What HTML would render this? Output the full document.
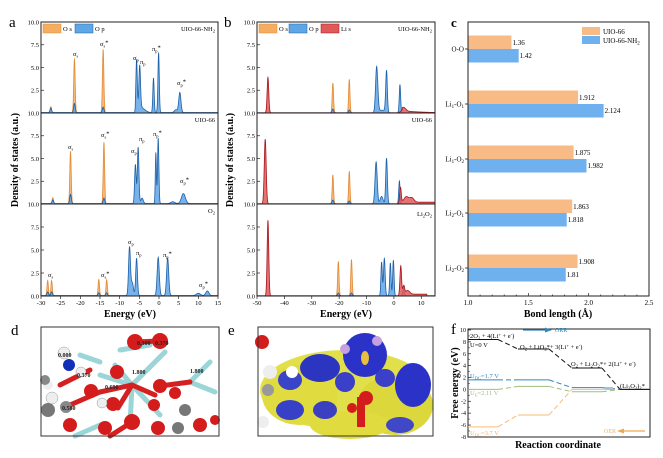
<!DOCTYPE html>
<html><head><meta charset="utf-8">
<style>
html,body{margin:0;padding:0;background:#fff;}
svg{display:block;font-family:"Liberation Serif",serif;}
</style></head>
<body>
<svg id="s" width="663" height="458" viewBox="0 0 663 458" xmlns="http://www.w3.org/2000/svg">
<rect width="663" height="458" fill="#fff"/>
<g id="spec"></g>
<text x="9" y="27" font-size="15">a</text>
<text x="224" y="27" font-size="15">b</text>
<text x="451" y="27" font-size="13" font-weight="bold">c</text>
<text x="11" y="335" font-size="15">d</text>
<text x="228" y="335" font-size="15">e</text>
<text x="451" y="334" font-size="15">f</text>
<text transform="translate(18,160) rotate(-90)" font-size="10" font-weight="bold" text-anchor="middle">Density of states (a.u.)</text>
<text transform="translate(233,160) rotate(-90)" font-size="10" font-weight="bold" text-anchor="middle">Density of states (a.u.)</text>
<text x="130" y="317" font-size="10" font-weight="bold" text-anchor="middle">Energy (eV)</text>
<text x="346" y="317" font-size="10" font-weight="bold" text-anchor="middle">Energy (eV)</text>
<text x="558" y="317" font-size="10" font-weight="bold" text-anchor="middle">Bond length (Å)</text>
<text x="558" y="448" font-size="10" font-weight="bold" text-anchor="middle">Reaction coordinate</text>
<text transform="translate(458,383) rotate(-90)" font-size="10" font-weight="bold" text-anchor="middle">Free energy (eV)</text>

<!-- panel d molecule -->
<g>
<rect x="41" y="327" width="178" height="109" fill="#fff"/>
<g stroke="#9ad6d8" stroke-width="5" stroke-linecap="round">
<line x1="132" y1="385" x2="165" y2="352"/><line x1="132" y1="385" x2="100" y2="375"/><line x1="132" y1="385" x2="130" y2="425"/><line x1="132" y1="385" x2="160" y2="415"/>
<line x1="132" y1="385" x2="115" y2="365"/><line x1="190" y1="382" x2="210" y2="362"/><line x1="190" y1="382" x2="215" y2="392"/><line x1="100" y1="425" x2="75" y2="436"/><line x1="150" y1="345" x2="120" y2="350"/><line x1="100" y1="362" x2="80" y2="355"/>
</g>
<g stroke="#d42020" stroke-width="5" stroke-linecap="round">
<line x1="132" y1="385" x2="100" y2="392"/><line x1="132" y1="385" x2="155" y2="395"/><line x1="100" y1="392" x2="70" y2="405"/><line x1="60" y1="385" x2="90" y2="370"/><line x1="132" y1="385" x2="118" y2="408"/><line x1="135" y1="342" x2="160" y2="341"/><line x1="160" y1="386" x2="190" y2="382"/><line x1="132" y1="422" x2="110" y2="436"/>
</g>
<circle cx="135" cy="342" r="8" fill="#d41c1c"/><circle cx="160" cy="341" r="8" fill="#d41c1c"/>
<circle cx="117" cy="372" r="7" fill="#d41c1c"/><circle cx="91" cy="391" r="7" fill="#d41c1c"/><circle cx="160" cy="386" r="7" fill="#d41c1c"/>
<circle cx="175" cy="393" r="6" fill="#d41c1c"/><circle cx="154" cy="405" r="6" fill="#d41c1c"/><circle cx="113" cy="404" r="7" fill="#d41c1c"/>
<circle cx="132" cy="422" r="8" fill="#d41c1c"/><circle cx="70" cy="425" r="7" fill="#d41c1c"/><circle cx="105" cy="428" r="7" fill="#d41c1c"/><circle cx="200" cy="425" r="7" fill="#d41c1c"/><circle cx="158" cy="428" r="7" fill="#d41c1c"/><circle cx="215" cy="420" r="5" fill="#d41c1c"/>
<circle cx="69" cy="365" r="6" fill="#1030b8"/>
<circle cx="64" cy="353" r="6" fill="#eee" stroke="#999" stroke-width=".5"/><circle cx="81" cy="372" r="5" fill="#eee" stroke="#999" stroke-width=".5"/><circle cx="52" cy="398" r="6" fill="#eee" stroke="#999" stroke-width=".5"/><circle cx="102" cy="403" r="5" fill="#eee" stroke="#999" stroke-width=".5"/><circle cx="48" cy="385" r="5" fill="#eee"/>
<circle cx="48" cy="410" r="7" fill="#777"/><circle cx="66" cy="407" r="6" fill="#888"/><circle cx="185" cy="410" r="6" fill="#777"/><circle cx="178" cy="428" r="6" fill="#777"/><circle cx="45" cy="380" r="5" fill="#888"/>
<g font-size="6" font-weight="bold" fill="#222"><text x="58" y="357">0.000</text><text x="77" y="377">0.370</text><text x="132" y="374">1.800</text><text x="190" y="373">1.800</text><text x="62" y="410">0.580</text><text x="137" y="345">0.300</text><text x="155" y="345">0.370</text><text x="105" y="389">0.690</text></g>
<rect x="41" y="327" width="178" height="109" fill="none" stroke="#333" stroke-width="1"/>
</g>
<!-- panel e -->
<g>
<rect x="258" y="327" width="175" height="109" fill="#fff"/>
<ellipse cx="345" cy="390" rx="85" ry="40" fill="#e2e04a"/>
<ellipse cx="300" cy="395" rx="38" ry="30" fill="#e0dc40"/>
<ellipse cx="395" cy="405" rx="38" ry="30" fill="#dcd83c"/>
<ellipse cx="350" cy="425" rx="40" ry="14" fill="#e0dc40"/>
<ellipse cx="365" cy="355" rx="22" ry="22" fill="#2a32c8"/>
<ellipse cx="320" cy="368" rx="20" ry="14" fill="#2b35c0"/>
<ellipse cx="290" cy="380" rx="12" ry="10" fill="#3a44c8"/>
<ellipse cx="413" cy="385" rx="18" ry="22" fill="#2a32c8"/>
<ellipse cx="290" cy="410" rx="14" ry="10" fill="#3840c8"/>
<ellipse cx="325" cy="410" rx="12" ry="9" fill="#3a40c0"/>
<ellipse cx="345" cy="382" rx="10" ry="10" fill="#3a40c8"/>
<ellipse cx="385" cy="378" rx="10" ry="9" fill="#3a40c8"/>
<ellipse cx="400" cy="425" rx="14" ry="8" fill="#4048c8"/>
<ellipse cx="365" cy="358" rx="4" ry="7" fill="#e8c040"/>
<circle cx="345" cy="349" r="5" fill="#c8a0e0"/><circle cx="377" cy="341" r="5" fill="#c8a0e0"/>
<rect x="357" y="397" width="8" height="30" fill="#d41c1c"/><circle cx="366" cy="398" r="7" fill="#d41c1c"/><circle cx="352" cy="408" r="5" fill="#d41c1c"/>
<circle cx="262" cy="342" r="7" fill="#d41c1c"/><circle cx="270" cy="372" r="7" fill="#eee"/><circle cx="292" cy="372" r="6" fill="#fff"/><circle cx="263" cy="422" r="6" fill="#eee"/><circle cx="268" cy="390" r="6" fill="#999"/>
<rect x="258" y="327" width="175" height="109" fill="none" stroke="#333" stroke-width="1"/>
</g>
<g id="pc"></g>
<g id="pf"></g>
</svg>
<script>
const NS="http://www.w3.org/2000/svg";
function el(parent,tag,attrs,txt){const e=document.createElementNS(NS,tag);for(const k in attrs)e.setAttribute(k,attrs[k]);if(txt!==undefined)e.innerHTML=txt;parent.appendChild(e);return e;}
const g=document.getElementById('spec');
const OR={fill:"#f5ad62",stroke:"#e38a35"},BL={fill:"#5fa6e6",stroke:"#1d5fa8"},RD={fill:"#e05a5a",stroke:"#a8141c"};
function draw(p,peaks,col,sig,bg){
 let d="M"+p.x0+","+p.yb;
 for(let e=p.emin;e<=p.emax+1e-9;e+=0.05){
  let v=0;for(const pk of peaks){const s=pk[2]||sig;v+=pk[1]*Math.exp(-((e-pk[0])**2)/(2*s*s));}
  if(bg)v+=bg(e);
  const x=p.x0+(e-p.emin)*p.k, y=p.yb-Math.min(v,10.3)*p.sc;
  d+=" L"+x.toFixed(2)+","+y.toFixed(2);
 }
 d+=" L"+(p.x0+(p.emax-p.emin)*p.k)+","+p.yb+" Z";
 el(g,'path',{d:d,fill:col.fill,'fill-opacity':0.85,stroke:col.stroke,'stroke-width':0.8});
}
function box(x0,x1,tops,yb,emin,emax,ticks){
 el(g,'rect',{x:x0,y:tops[0],width:x1-x0,height:yb-tops[0],fill:'none',stroke:'#222','stroke-width':1});
 for(let i=1;i<tops.length;i++)el(g,'line',{x1:x0,x2:x1,y1:tops[i],y2:tops[i],stroke:'#222','stroke-width':1});
 const allb=tops.slice(1).concat([yb]);
 for(let i=0;i<tops.length;i++){const t=tops[i],b=allb[i],h=b-t;
  ['0.0','2.5','5.0','7.5','10.0'].forEach((lab,j)=>{const y=b-j*h/10*2.5;
   el(g,'line',{x1:x0,x2:x0+3,y1:y,y2:y,stroke:'#222','stroke-width':.7});
   el(g,'text',{x:x0-2,y:y+2.3,'font-size':6.5,'text-anchor':'end'},(j==0&&i<2)?'':lab);
  });
 }
 const k=(x1-x0)/(emax-emin);
 for(const t of ticks){const x=x0+(t-emin)*k;el(g,'line',{x1:x,x2:x,y1:yb,y2:yb+3,stroke:'#222','stroke-width':.7});el(g,'text',{x:x,y:yb+9,'font-size':6.5,'text-anchor':'middle'},t);}
}
const A={x0:41,x1:218,emin:-30,emax:15};A.k=(A.x1-A.x0)/45;
const at=[22,113,204],yb=296;
function pa(i){return {x0:A.x0,k:A.k,emin:-30,emax:15,yb:(i<2?at[i+1]:yb),sc:9.1};}
draw(pa(0),[[-27.5,.7],[-21.5,6.0],[-14.2,7.0]],OR,.18);
draw(pa(0),[[-27.5,.5],[-21.5,1],[-14.2,.6],[-5.7,5.3,.17],[-4.9,4.6,.2],[-1.4,3.8,.17],[-0.1,6.6,.17],[5.3,2.2,.28],[4.3,.3,.4]],BL,.2,e=>(e>-6&&e<-1.5)?0.7*Math.exp(-(e+5)*(e+5)/3):0.05);
draw(pa(1),[[-27,.7],[-22.5,5.8],[-14,6.8]],OR,.18);
draw(pa(1),[[-27,.4],[-22.5,1],[-14,.6],[-6,4.3,.2],[-5.3,6.2,.2],[-4.3,.6,.3],[-0.8,5.6,.14],[-0.2,7.2,.17],[6.2,1.1,.5],[3.5,.2,.5]],BL,.2,e=>0.05);
draw(pa(2),[[-28.3,1.7],[-27.3,1.7],[-15.3,1.8],[-13.3,1.8]],OR,.18);
draw(pa(2),[[-28.3,.4],[-27.3,.4],[-15.3,.3],[-13.3,.3],[-7.5,5.3,.24],[-6.8,1.4,.3],[-5.7,4.1,.22],[-0.2,4.2,.27],[2.2,4.1,.27],[12.3,.5,.4],[10,.25,.5]],BL,.2,e=>0.05);
box(41,218,at,yb,-30,15,[-30,-25,-20,-15,-10,-5,0,5,10,15]);
const lab=(x,y,t,fs)=>el(g,'text',{x:x,y:y,'font-size':fs||6.5},t);
lab(73,56,'σ<tspan font-size="4.5" dy="1.5">s</tspan>');lab(100,46,'σ<tspan font-size="4.5" dy="1.5">s</tspan><tspan dy="-3">*</tspan>');
lab(133,60,'σ<tspan font-size="4.5" dy="1.5">p</tspan>');lab(140,64,'π<tspan font-size="4.5" dy="1.5">p</tspan>');lab(152,51,'π<tspan font-size="4.5" dy="1.5">p</tspan><tspan dy="-3">*</tspan>');lab(177,85,'σ<tspan font-size="4.5" dy="1.5">p</tspan><tspan dy="-3">*</tspan>');
lab(68,149,'σ<tspan font-size="4.5" dy="1.5">s</tspan>');lab(101,137,'σ<tspan font-size="4.5" dy="1.5">s</tspan><tspan dy="-3">*</tspan>');
lab(131,153,'σ<tspan font-size="4.5" dy="1.5">p</tspan>');lab(139,141,'π<tspan font-size="4.5" dy="1.5">p</tspan>');lab(153,136,'π<tspan font-size="4.5" dy="1.5">p</tspan><tspan dy="-3">*</tspan>');lab(180,183,'σ<tspan font-size="4.5" dy="1.5">p</tspan><tspan dy="-3">*</tspan>');
lab(48,277,'σ<tspan font-size="4.5" dy="1.5">s</tspan>');lab(101,277,'σ<tspan font-size="4.5" dy="1.5">s</tspan><tspan dy="-3">*</tspan>');
lab(128,244,'σ<tspan font-size="4.5" dy="1.5">p</tspan>');lab(136,255,'π<tspan font-size="4.5" dy="1.5">p</tspan>');lab(163,257,'π<tspan font-size="4.5" dy="1.5">p</tspan><tspan dy="-3">*</tspan>');lab(199,287,'σ<tspan font-size="4.5" dy="1.5">p</tspan><tspan dy="-3">*</tspan>');
el(g,'text',{x:215,y:31,'font-size':6.5,'text-anchor':'end'},'UIO-66-NH<tspan font-size="4.5" dy="1.5">2</tspan>');
el(g,'text',{x:215,y:122,'font-size':6.5,'text-anchor':'end'},'UIO-66');
el(g,'text',{x:215,y:213,'font-size':6.5,'text-anchor':'end'},'O<tspan font-size="4.5" dy="1.5">2</tspan>');
el(g,'rect',{x:43,y:24,width:18,height:9,fill:OR.fill,stroke:OR.stroke,'stroke-width':.5});lab(63,31,'O s');
el(g,'rect',{x:75,y:24,width:18,height:9,fill:BL.fill,stroke:BL.stroke,'stroke-width':.5});lab(95,31,'O p');
const B={x0:257,x1:435,emin:-50,emax:15};B.k=(B.x1-B.x0)/65;
function pb(i){return {x0:B.x0,k:B.k,emin:-50,emax:15,yb:(i<2?at[i+1]:yb),sc:9.1};}
draw(pb(0),[[-22.3,3.3],[-16.3,3.7]],OR,.25);
draw(pb(0),[[-22.3,.4],[-16.3,.3],[-6.3,5.1,.4],[-2.7,4.4,.3],[2.2,3.1,.25]],BL,.3,e=>(e>-6&&e<-2.5)?0.3:0.03);
draw(pb(0),[[-46,3.9,.3],[3.5,.4,.8]],RD,.3,e=>(e>3)?0.25*Math.exp(-(e-3)/8):0.02);
draw(pb(1),[[-22.3,3.2],[-16.3,3.6]],OR,.25);
draw(pb(1),[[-22.3,.4],[-16.3,.3],[-6.5,4.6,.4],[-4.5,.8,.5],[-2.7,5.0,.3],[2.0,2.5,.25]],BL,.3,e=>0.03);
draw(pb(1),[[-47,7.1,.35],[2.4,1.8,.3],[4.5,.6,.8],[6.5,.5,.8]],RD,.3,e=>(e>3)?0.2:0.02);
draw(pb(2),[[-20.3,3.8],[-15.5,4.0]],OR,.25);
draw(pb(2),[[-20.3,.3],[-15.5,.3],[-4.5,3.7,.25],[-3.5,4.1,.3],[-1.3,3.6,.25],[-0.2,3.9,.25],[3.5,.8,.3]],BL,.3,e=>0.03);
draw(pb(2),[[-46,8.3,.3],[2.5,3.3,.3],[3.6,.9,.3],[5,.4,.8]],RD,.3,e=>(e>3&&e<12)?0.2:0.02);
box(257,435,at,yb,-50,15,[-50,-40,-30,-20,-10,0,10]);
el(g,'text',{x:432,y:31,'font-size':6.5,'text-anchor':'end'},'UIO-66-NH<tspan font-size="4.5" dy="1.5">2</tspan>');
el(g,'text',{x:432,y:122,'font-size':6.5,'text-anchor':'end'},'UIO-66');
el(g,'text',{x:432,y:216,'font-size':6.5,'text-anchor':'end'},'Li<tspan font-size="4.5" dy="1.5">2</tspan><tspan dy="-1.5">O</tspan><tspan font-size="4.5" dy="1.5">2</tspan>');
el(g,'rect',{x:259,y:24,width:18,height:9,fill:OR.fill,stroke:OR.stroke,'stroke-width':.5});lab(279,31,'O s');
el(g,'rect',{x:289,y:24,width:18,height:9,fill:BL.fill,stroke:BL.stroke,'stroke-width':.5});lab(309,31,'O p');
el(g,'rect',{x:321,y:24,width:18,height:9,fill:RD.fill,stroke:RD.stroke,'stroke-width':.5});lab(341,31,'Li s');

const c=document.getElementById('pc');
const cx0=468,cx1=649,ck=(cx1-cx0)/1.5;
const cats=[['O-O',49,1.36,1.42],['Li<tspan font-size="5" dy="1.5">1</tspan><tspan dy="-1.5">-O</tspan><tspan font-size="5" dy="1.5">1</tspan>',104,1.912,2.124],['Li<tspan font-size="5" dy="1.5">1</tspan><tspan dy="-1.5">-O</tspan><tspan font-size="5" dy="1.5">2</tspan>',159,1.875,1.982],['Li<tspan font-size="5" dy="1.5">2</tspan><tspan dy="-1.5">-O</tspan><tspan font-size="5" dy="1.5">1</tspan>',213,1.863,1.818],['Li<tspan font-size="5" dy="1.5">2</tspan><tspan dy="-1.5">-O</tspan><tspan font-size="5" dy="1.5">2</tspan>',268,1.908,1.81]];
const vs=['1.36','1.42','1.912','2.124','1.875','1.982','1.863','1.818','1.908','1.81'];
cats.forEach((ct,i)=>{const y=ct[1];
 el(c,'rect',{x:cx0,y:y-13.5,width:(ct[2]-1)*ck,height:13.5,fill:'#f8bb86'});
 el(c,'rect',{x:cx0,y:y,width:(ct[3]-1)*ck,height:13.5,fill:'#6fb0ef'});
 el(c,'text',{x:cx0+(ct[2]-1)*ck+1,y:y-4,'font-size':7},vs[2*i]);
 el(c,'text',{x:cx0+(ct[3]-1)*ck+1,y:y+9,'font-size':7},vs[2*i+1]);
 el(c,'line',{x1:cx0-3,x2:cx0,y1:y,y2:y,stroke:'#222','stroke-width':.8});
 el(c,'text',{x:cx0-4,y:y+2.5,'font-size':7,'text-anchor':'end'},ct[0]);
});
el(c,'rect',{x:cx0,y:22,width:cx1-cx0,height:274,fill:'none',stroke:'#222','stroke-width':1});
for(let t=0;t<=15;t++){const x=cx0+t*ck/10;el(c,'line',{x1:x,x2:x,y1:296,y2:296-(t%5==0?3:1.5),stroke:'#222','stroke-width':.7});}
['1.0','1.5','2.0','2.5'].forEach((l,i)=>el(c,'text',{x:cx0+i*ck/2,y:305,'font-size':7,'text-anchor':'middle'},l));
el(c,'rect',{x:582,y:27,width:18,height:8,fill:'#f8bb86'});el(c,'text',{x:603,y:34,'font-size':7},'UIO-66');
el(c,'rect',{x:582,y:36,width:18,height:8,fill:'#6fb0ef'});el(c,'text',{x:603,y:43,'font-size':7},'UIO-66-NH<tspan font-size="5" dy="1.5">2</tspan>');

const f=document.getElementById('pf');
const fy=v=>330+(10-v)*5.94;
el(f,'rect',{x:468,y:329,width:182,height:108,fill:'none',stroke:'#222','stroke-width':1});
for(let v=-8;v<=10;v+=2){const y=fy(v);el(f,'line',{x1:468,x2:471,y1:y,y2:y,stroke:'#222','stroke-width':.7});el(f,'text',{x:466,y:y+2,'font-size':6,'text-anchor':'end'},v);
 if(v<10)el(f,'line',{x1:468,x2:470,y1:fy(v+1),y2:fy(v+1),stroke:'#222','stroke-width':.5});}
const segs=[[468,498],[518,549],[572,602],[620,650]];
function path(vals,col,w){
 for(let i=0;i<4;i++){el(f,'line',{x1:segs[i][0],x2:segs[i][1],y1:fy(vals[i]),y2:fy(vals[i]),stroke:col,'stroke-width':w||1});
  if(i<3)el(f,'line',{x1:segs[i][1],x2:segs[i+1][0],y1:fy(vals[i]),y2:fy(vals[i+1]),stroke:col,'stroke-width':w||1,'stroke-dasharray':'5,3'});}
}
path([0,0.5,-0.4,0],'#9fbf80');
path([-6.3,-4.3,0,0],'#f5bd7a');
path([1.6,1.6,0.3,0],'#2f86c0');
path([8.4,6.8,3.6,0],'#111');
el(f,'rect',{x:607,y:fy(0.4),width:6,height:3,fill:'#aac0d8'});
el(f,'text',{x:470,y:338,'font-size':6.5},'2O<tspan font-size="4.5" dy="1.5">2</tspan><tspan dy="-1.5"> + 4(Li</tspan><tspan font-size="4.5" dy="-2">+</tspan><tspan dy="2"> + e</tspan><tspan font-size="4.5" dy="-2">-</tspan><tspan dy="2">)</tspan>');
el(f,'text',{x:470,y:347,'font-size':6.5},'U=0 V');
el(f,'text',{x:520,y:349,'font-size':6.5},'O<tspan font-size="4.5" dy="1.5">2</tspan><tspan dy="-1.5"> + LiO</tspan><tspan font-size="4.5" dy="1.5">2</tspan><tspan dy="-1.5">*+ 3(Li</tspan><tspan font-size="4.5" dy="-2">+</tspan><tspan dy="2"> + e</tspan><tspan font-size="4.5" dy="-2">-</tspan><tspan dy="2">)</tspan>');
el(f,'text',{x:571,y:366,'font-size':6.5},'O<tspan font-size="4.5" dy="1.5">2</tspan><tspan dy="-1.5"> + Li</tspan><tspan font-size="4.5" dy="1.5">2</tspan><tspan dy="-1.5">O</tspan><tspan font-size="4.5" dy="1.5">2</tspan><tspan dy="-1.5">*+ 2(Li</tspan><tspan font-size="4.5" dy="-2">+</tspan><tspan dy="2"> + e</tspan><tspan font-size="4.5" dy="-2">-</tspan><tspan dy="2">)</tspan>');
el(f,'text',{x:620,y:388,'font-size':6.5},'(Li<tspan font-size="4.5" dy="1.5">2</tspan><tspan dy="-1.5">O</tspan><tspan font-size="4.5" dy="1.5">2</tspan><tspan dy="-1.5">)</tspan><tspan font-size="4.5" dy="1.5">2</tspan><tspan dy="-1.5">*</tspan>');
el(f,'text',{x:470,y:378,'font-size':6.5,fill:'#2f86c0'},'U<tspan font-size="4.5" dy="1.5">DC</tspan><tspan dy="-1.5">=1.7 V</tspan>');
el(f,'text',{x:470,y:395,'font-size':6.5,fill:'#9fbf80'},'U<tspan font-size="4.5" dy="1.5">E</tspan><tspan dy="-1.5">=2.11 V</tspan>');
el(f,'text',{x:470,y:435,'font-size':6.5,fill:'#f0b070'},'U<tspan font-size="4.5" dy="1.5">DC</tspan><tspan dy="-1.5">=3.7 V</tspan>');
el(f,'line',{x1:523,x2:546,y1:330,y2:330,stroke:'#2f86c0','stroke-width':1.2});el(f,'path',{d:'M552,330 L545,327.5 L545,332.5 Z',fill:'#2f86c0'});
el(f,'text',{x:555,y:332,'font-size':6,fill:'#2f86c0'},'ORR');
el(f,'text',{x:604,y:433,'font-size':6,fill:'#f0b070'},'OER');
el(f,'line',{x1:622,x2:645,y1:431,y2:431,stroke:'#f0a850','stroke-width':1.2});el(f,'path',{d:'M617,431 L624,428.5 L624,433.5 Z',fill:'#f0a850'});
</script>
</body></html>
